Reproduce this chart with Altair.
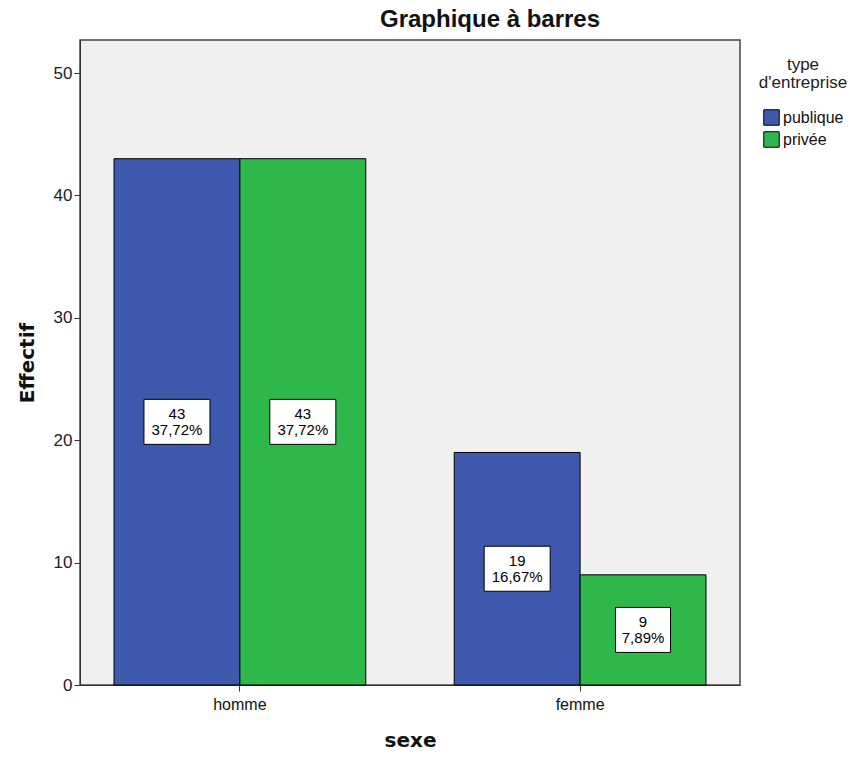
import altair as alt
import pandas as pd

sexes = ["homme", "femme"]
types = ["publique", "privée"]
publique = [43, 19]
privee = [43, 9]
pct_publique = ["37,72%", "16,67%"]
pct_privee = ["37,72%", "7,89%"]

rows = []
for i, s in enumerate(sexes):
    rows.append({"sexe": s, "type": types[0], "n": publique[i], "pct": pct_publique[i]})
    rows.append({"sexe": s, "type": types[1], "n": privee[i], "pct": pct_privee[i]})
df = pd.DataFrame(rows)
df["label"] = df["n"].astype(str) + "\n" + df["pct"]
df["mid"] = df["n"] / 2
df["bw"] = df["pct"].str.len() * 11.0
df["boxsize"] = df["bw"] ** 2
df["shape"] = df["bw"].apply(lambda w: "M-1,-{r:.3f}H1V{r:.3f}H-1Z".format(r=22.5 / (w / 2)))

FONT = "Liberation Sans"
TFONT = "DejaVu Sans"

x_enc = alt.X("sexe:N", sort=sexes,
              scale=alt.Scale(paddingInner=0.26, paddingOuter=0.1),
              axis=alt.Axis(title="sexe", labelAngle=0, labelFont=FONT, labelFontSize=16,
                            labelColor="#111", titleFont=TFONT, titleFontSize=20,
                            titleFontWeight="bold", titleColor="#111", titlePadding=18,
                            tickSize=6, tickColor="#333", domainColor="#333", labelPadding=5))
xoff = alt.XOffset("type:N", sort=types, scale=alt.Scale(paddingInner=0, paddingOuter=0))
y_scale = alt.Scale(domain=[0, 52.7], nice=False, zero=True)

bars = alt.Chart(df).mark_bar(stroke="black", strokeWidth=1).encode(
    x=x_enc,
    xOffset=xoff,
    y=alt.Y("n:Q", scale=y_scale,
            axis=alt.Axis(title="Effectif", values=[0, 10, 20, 30, 40, 50], grid=False,
                          labelFont=FONT, labelFontSize=17, labelColor="#222",
                          titleFont=TFONT, titleFontSize=20, titleFontWeight="bold",
                          titleColor="#111", titlePadding=16, tickSize=6, tickColor="#333",
                          domainColor="#333", labelPadding=2)),
    color=alt.Color("type:N", sort=types,
                    scale=alt.Scale(domain=types, range=["#3e58ac", "#2eb84c"]),
                    legend=alt.Legend(title=["type", "d'entreprise"], orient="none",
                                      legendX=679, legendY=17, titleFont=FONT,
                                      titleFontSize=17, titleFontWeight="normal",
                                      titleColor="#222", titleAlign="center",
                                      titleAnchor="middle", titleLineHeight=18,
                                      titlePadding=17, labelFont=FONT, labelFontSize=16,
                                      labelColor="#111", symbolType="square", symbolSize=240,
                                      symbolStrokeColor="black", symbolStrokeWidth=1,
                                      rowPadding=1, labelOffset=3)),
)

boxes = alt.Chart(df).mark_point(filled=True, fill="white", stroke="black",
                                 strokeWidth=1, opacity=1).encode(
    x=alt.X("sexe:N", sort=sexes),
    xOffset=xoff,
    y=alt.Y("mid:Q", scale=y_scale),
    shape=alt.Shape("shape:N", scale=None, legend=None),
    size=alt.Size("boxsize:Q", scale=None, legend=None),
)

labels = alt.Chart(df).mark_text(font=FONT, fontSize=15, color="black",
                                 lineBreak="\n", lineHeight=16, baseline="middle",
                                 align="center", dy=-8).encode(
    x=alt.X("sexe:N", sort=sexes),
    xOffset=xoff,
    y=alt.Y("mid:Q", scale=y_scale),
    text="label:N",
)

chart = alt.layer(bars, boxes, labels).properties(
    width=660, height=645,
    background="white",
    title=alt.TitleParams("Graphique à barres", font=FONT, fontSize=24, fontWeight="bold",
                          color="#111", anchor="middle", dx=80, offset=8),
    autosize=alt.AutoSizeParams(type="none"),
    padding={"left": 80, "top": 40, "right": 119, "bottom": 72},
).configure_view(fill="#f0f0f0", stroke="#444", strokeWidth=1.5)

chart.save("out.html", embed_options={"renderer": "svg", "actions": False})
